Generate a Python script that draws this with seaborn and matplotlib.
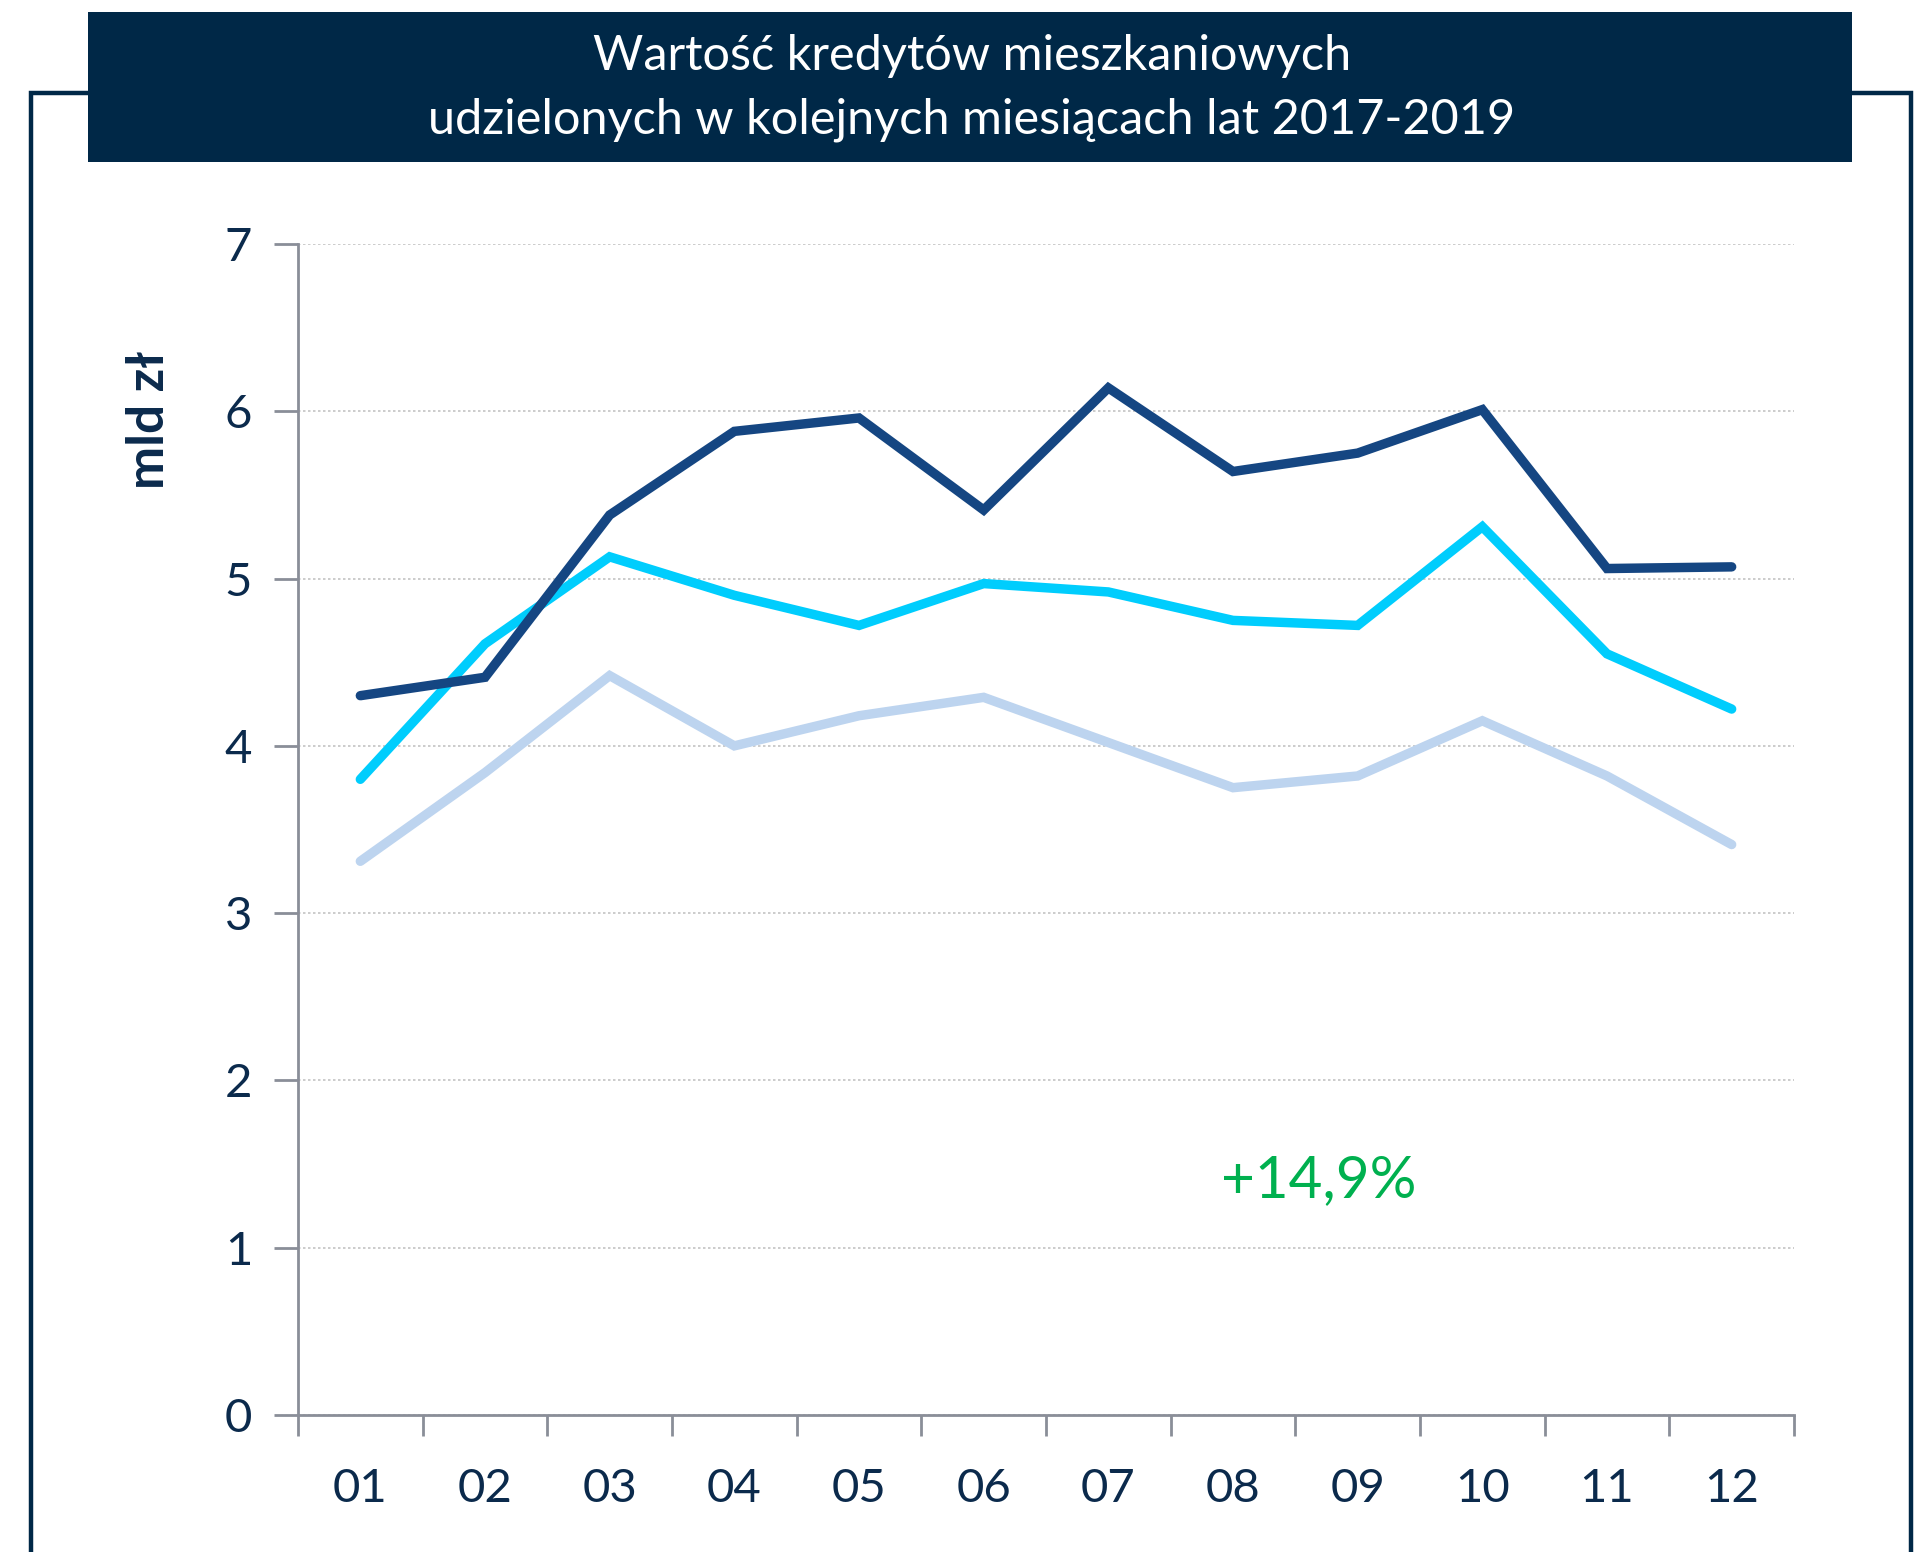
import matplotlib
matplotlib.use("Agg")
import matplotlib.pyplot as plt
import matplotlib.patches as mpatches
import numpy as np
import pandas as pd
import seaborn as sns

months = ["01", "02", "03", "04", "05", "06", "07", "08", "09", "10", "11", "12"]
years = ["2017", "2018", "2019"]
v2017 = [3.31, 3.84, 4.42, 4.00, 4.18, 4.29, 4.02, 3.75, 3.82, 4.15, 3.82, 3.41]
v2018 = [3.80, 4.61, 5.13, 4.90, 4.72, 4.97, 4.92, 4.75, 4.72, 5.31, 4.55, 4.22]
v2019 = [4.30, 4.41, 5.38, 5.88, 5.96, 5.41, 6.14, 5.64, 5.75, 6.01, 5.06, 5.07]
y_ticks = [0, 1, 2, 3, 4, 5, 6, 7]
title = "Wartość kredytów mieszkaniowych\nudzielonych w kolejnych miesiącach lat 2017-2019"
ylabel = "mld zł"
note = "+14,9%"

colors = {"2017": "#bdd4ef", "2018": "#00cdfd", "2019": "#154682"}
navy = "#002847"
text_col = "#0b2a4c"

df = pd.DataFrame({
    "month": months * 3,
    "x": list(range(len(months))) * 3,
    "value": v2017 + v2018 + v2019,
    "year": ["2017"] * 12 + ["2018"] * 12 + ["2019"] * 12,
})

sns.set_theme(style="white")
plt.rcParams["font.family"] = ["Lato", "DejaVu Sans"]

W, H = 1927, 1552
fig = plt.figure(figsize=(W / 100, H / 100), dpi=100)
fig.patch.set_facecolor("white")

# outer frame
frame = mpatches.Rectangle((31 / W, -0.05), (1911 - 31) / W, 1 - 93 / H + 0.05,
                           transform=fig.transFigure, fill=False,
                           edgecolor=navy, linewidth=3.2, zorder=0)
fig.patches.append(frame)
# title box
tbox = mpatches.Rectangle((88 / W, 1 - 162 / H), (1852 - 88) / W, (162 - 12) / H,
                          transform=fig.transFigure, facecolor=navy,
                          edgecolor="none", zorder=1)
fig.patches.append(tbox)
fig.text(972 / W, 1 - 88 / H, title, ha="center", va="center", color="white",
         fontsize=35, linespacing=1.55, zorder=2)

ax = fig.add_axes([298 / W, 1 - 1415 / H, (1794 - 298) / W, (1415 - 244) / H])
ax.set_facecolor("none")

sns.lineplot(data=df, x="x", y="value", hue="year", palette=colors,
             hue_order=["2017", "2018", "2019"], linewidth=6.8, legend=False,
             ax=ax, sort=False)
for ln in ax.get_lines():
    ln.set_solid_capstyle("round")
    ln.set_solid_joinstyle("miter")

ax.set_xlim(-0.5, len(months) - 0.5)
ax.set_ylim(0, 7)
ax.set_yticks(y_ticks)
ax.set_yticklabels([str(t) for t in y_ticks])
ax.set_xticks(np.arange(-0.5, len(months), 1.0))
ax.set_xticklabels([])
ax.set_xticks(np.arange(len(months)), minor=True)
ax.set_xticklabels(months, minor=True)
ax.tick_params(axis="x", which="major", bottom=True, length=15, width=2,
               color="#8a8e98", direction="out")
ax.tick_params(axis="x", which="minor", bottom=True, length=0, pad=38,
               labelsize=34, labelcolor=text_col)
ax.tick_params(axis="y", which="major", left=True, length=17, width=2,
               color="#8a8e98", direction="out", pad=16, labelsize=34,
               labelcolor=text_col)
ax.set_xlabel("")
ax.set_ylabel("")

for s in ["top", "right"]:
    ax.spines[s].set_visible(False)
for s in ["left", "bottom"]:
    ax.spines[s].set_color("#8a8e98")
    ax.spines[s].set_linewidth(2)

ax.yaxis.grid(True, linestyle=(0, (1.5, 1.5)), color="#c4c4c4", linewidth=1.2)
ax.set_axisbelow(True)

fig.text(150 / W, 1 - 420 / H, ylabel, rotation=90, ha="center", va="center",
         color=text_col, fontsize=37, fontweight="bold")
ax.text(7.69, 1.40, note, ha="center", va="center", color="#00b04f", fontsize=42)

fig.savefig("out.png", dpi=100, facecolor="white")
